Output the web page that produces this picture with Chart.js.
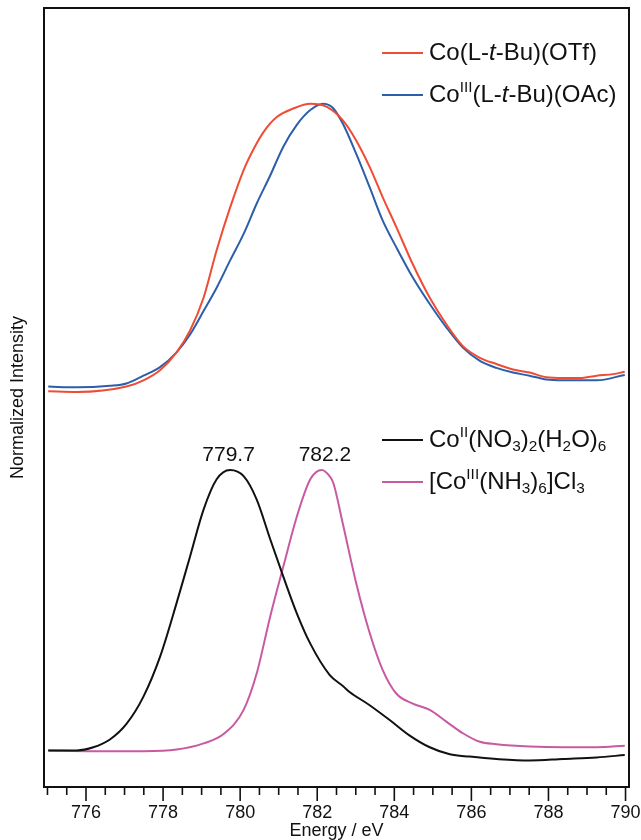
<!DOCTYPE html>
<html>
<head>
<meta charset="utf-8">
<title>Co L-edge XAS</title>
<script src="https://cdn.jsdelivr.net/npm/chart.js@4.4.1/dist/chart.umd.min.js"></script>
<style>
  html, body { margin: 0; padding: 0; background: #fff; }
  #wrap { width: 641px; height: 840px; position: relative; }
</style>
</head>
<body>
<div id="wrap"><canvas id="xasChart"></canvas></div>
<script>
/* ==========================================
   Data (energy in eV,
   intensity in arbitrary stacked units)
========================================== */
const otfEnergy = [775.02, 775.76, 777.05, 777.49, 777.92, 778.35, 778.70, 779.05, 779.39, 779.74, 780.09, 780.35, 780.61, 780.95, 781.38, 781.82, 782.25, 782.66, 783.01, 783.36, 783.70, 784.05, 784.48, 784.92, 785.35, 785.78, 786.22, 786.65, 787.08, 787.51, 787.95, 788.38, 788.81, 789.25, 789.68, 789.98];
const otfIntensity = [50.8, 50.7, 51.4, 52.2, 53.5, 55.8, 58.6, 62.8, 68.9, 74.4, 79.2, 81.9, 84.1, 86.0, 87.1, 87.7, 87.3, 85.6, 83.0, 79.6, 75.7, 71.9, 67.1, 62.8, 59.4, 56.6, 55.1, 54.3, 53.6, 53.2, 52.6, 52.5, 52.5, 52.8, 53.0, 53.3];

const oacEnergy = [775.02, 775.76, 776.62, 777.05, 777.49, 777.92, 778.35, 778.70, 779.05, 779.39, 779.74, 780.09, 780.43, 780.78, 781.12, 781.47, 781.82, 782.16, 782.32, 782.42, 782.66, 783.01, 783.36, 783.70, 784.05, 784.48, 784.92, 785.35, 785.78, 786.22, 786.65, 787.08, 787.51, 787.95, 788.38, 789.25, 789.98];
const oacIntensity = [51.4, 51.3, 51.5, 51.8, 52.8, 53.9, 55.8, 58.1, 61.1, 64.1, 67.6, 71.0, 74.9, 78.5, 82.2, 85.0, 86.9, 87.7, 87.5, 87.1, 85.2, 81.3, 77.0, 72.7, 69.3, 65.4, 62.0, 59.0, 56.4, 54.7, 53.8, 53.2, 52.8, 52.3, 52.2, 52.2, 52.9];

const nitrateEnergy = [775.02, 775.76, 776.19, 776.62, 777.05, 777.49, 777.92, 778.35, 778.70, 779.05, 779.39, 779.74, 780.09, 780.43, 780.78, 781.12, 781.47, 781.82, 782.32, 782.68, 782.84, 783.36, 783.88, 784.40, 784.92, 785.44, 785.96, 786.65, 787.51, 788.38, 789.25, 789.98];
const nitrateIntensity = [4.7, 4.7, 5.1, 6.1, 8.1, 11.6, 16.7, 23.6, 29.6, 35.6, 39.5, 40.7, 39.9, 36.9, 31.8, 27.0, 22.3, 18.4, 14.4, 12.9, 12.2, 10.5, 8.6, 6.6, 5.1, 4.2, 3.9, 3.6, 3.4, 3.6, 3.8, 4.1];

const ammineEnergy = [775.02, 776.19, 777.49, 778.35, 779.05, 779.57, 780.09, 780.43, 780.78, 781.12, 781.47, 781.82, 782.12, 782.32, 782.42, 782.66, 783.01, 783.36, 783.70, 784.05, 784.48, 784.92, 785.35, 785.78, 786.22, 786.65, 787.51, 788.38, 789.25, 789.98];
const ammineIntensity = [4.7, 4.6, 4.6, 4.8, 5.6, 6.8, 9.9, 14.6, 21.9, 28.3, 34.7, 39.5, 40.7, 39.9, 39.0, 33.9, 26.2, 19.8, 15.0, 12.0, 10.7, 9.9, 8.4, 6.9, 5.8, 5.5, 5.2, 5.1, 5.1, 5.3];

const seriesLabels = ["Co(L-t-Bu)(OTf)", "CoIII(L-t-Bu)(OAc)", "CoII(NO3)2(H2O)6", "[CoIII(NH3)6]Cl3"];

// rich legend text: [text, style] with style "", "i", "sup", "sub"
const legendParts = [
  [["Co(L-", ""], ["t", "i"], ["-Bu)(OTf)", ""]],
  [["Co", ""], ["III", "sup"], ["(L-", ""], ["t", "i"], ["-Bu)(OAc)", ""]],
  [["Co", ""], ["II", "sup"], ["(NO", ""], ["3", "sub"], [")", ""], ["2", "sub"], ["(H", ""], ["2", "sub"], ["O)", ""], ["6", "sub"]],
  [["[Co", ""], ["III", "sup"], ["(NH", ""], ["3", "sub"], [")", ""], ["6", "sub"], ["]Cl", ""], ["3", "sub"]]
];

const peakEnergies = [779.7, 782.2];
const peakSeries = [2, 3];

const xMajorTicks = [776, 778, 780, 782, 784, 786, 788, 790];
const xMinorStep = 0.5;

document.addEventListener("DOMContentLoaded", () => {

  const FONT = "'Liberation Sans', Arial, Helvetica, sans-serif";
  Chart.defaults.font.family = FONT;
  Chart.defaults.color = "#111";

  const colors = ["#ef4c34", "#2c5ea9", "#111111", "#c85aa2"];

  const toPoints = (xs, ys) => xs.map((x, i) => ({ x: x, y: ys[i] }));
  const seriesData = [
    toPoints(otfEnergy, otfIntensity),
    toPoints(oacEnergy, oacIntensity),
    toPoints(nitrateEnergy, nitrateIntensity),
    toPoints(ammineEnergy, ammineIntensity)
  ];

  /* ==========================================
     Frame, outward ticks, axis titles, legend,
     peak labels
  ========================================== */
  const decorPlugin = {
    id: "decor",
    afterDraw(chart) {
      const { ctx, chartArea: a, scales } = chart;
      const xs = scales.x, ys = scales.y;
      ctx.save();

      // box
      ctx.strokeStyle = "#111";
      ctx.lineWidth = 2;
      ctx.strokeRect(a.left, a.top, a.right - a.left, a.bottom - a.top);

      // ticks below the frame
      ctx.lineWidth = 1.6;
      xs.ticks.forEach(t => {
        const px = xs.getPixelForValue(t.value);
        const major = xMajorTicks.includes(t.value);
        ctx.beginPath();
        ctx.moveTo(px, a.bottom);
        ctx.lineTo(px, a.bottom + (major ? 14 : 8));
        ctx.stroke();
      });

      // tick labels + x title
      ctx.fillStyle = "#111";
      ctx.textAlign = "center";
      ctx.textBaseline = "middle";
      ctx.font = "18px " + FONT;
      xMajorTicks.forEach(v => ctx.fillText(String(v), xs.getPixelForValue(v), a.bottom + 26));
      ctx.font = "18px " + FONT;
      ctx.fillText("Energy / eV", (a.left + a.right) / 2, a.bottom + 44);

      // y title
      ctx.font = "18px " + FONT;
      ctx.translate(18, (a.top + a.bottom) / 2);
      ctx.rotate(-Math.PI / 2);
      ctx.fillText("Normalized Intensity", 0, 0);
      ctx.setTransform(1, 0, 0, 1, 0, 0);

      // peak labels
      ctx.font = "21px " + FONT;
      ctx.textBaseline = "alphabetic";
      peakEnergies.forEach((e, i) => {
        const peakY = Math.max(...chart.data.datasets[peakSeries[i]].data.map(p => p.y));
        ctx.fillText(e.toFixed(1), xs.getPixelForValue(e), ys.getPixelForValue(peakY) - 9);
      });

      // legend
      const rowsY = [53, 95, 440, 482];
      const size = 24;
      legendParts.forEach((parts, i) => {
        const y = rowsY[i];
        ctx.strokeStyle = colors[i];
        ctx.lineWidth = 2;
        ctx.beginPath();
        ctx.moveTo(382, y);
        ctx.lineTo(423, y);
        ctx.stroke();

        let x = 429;
        ctx.textAlign = "left";
        ctx.textBaseline = "middle";
        parts.forEach(([txt, style]) => {
          let f = size, dy = 0, it = "";
          if (style === "sup") { f = size * 0.64; dy = -size * 0.3; }
          if (style === "sub") { f = size * 0.64; dy = size * 0.3; }
          if (style === "i") it = "italic ";
          ctx.font = it + f + "px " + FONT;
          ctx.fillText(txt, x, y + dy);
          x += ctx.measureText(txt).width;
        });
      });

      ctx.restore();
    }
  };

  new Chart(document.getElementById("xasChart"), {
    type: "line",
    data: {
      datasets: seriesData.map((d, i) => ({
        label: seriesLabels[i],
        data: d,
        borderColor: colors[i],
        borderWidth: 2,
        pointRadius: 0,
        cubicInterpolationMode: "monotone",
        fill: false
      }))
    },
    options: {
      responsive: true,
      maintainAspectRatio: false,
      animation: false,
      layout: { padding: { left: 44, right: 12, top: 8, bottom: 45 } },
      plugins: {
        legend: { display: false },
        tooltip: { enabled: false }
      },
      scales: {
        x: {
          type: "linear",
          min: 774.91,
          max: 790.09,
          grid: { display: false },
          border: { display: false },
          ticks: {
            display: false,
            stepSize: xMinorStep,
            includeBounds: false,
            autoSkip: false
          }
        },
        y: {
          display: false,
          min: 0,
          max: 100
        }
      }
    },
    plugins: [decorPlugin]
  });

});
</script>
</body>
</html>
